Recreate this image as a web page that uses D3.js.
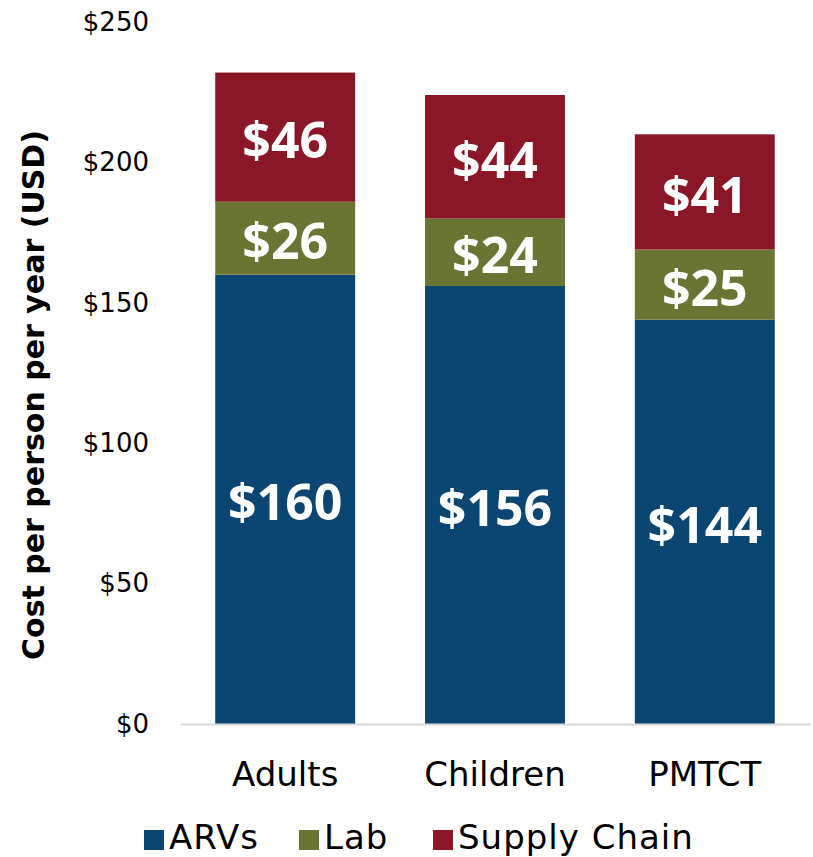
<!DOCTYPE html>
<html>
<head>
<meta charset="utf-8">
<script src="https://cdn.jsdelivr.net/npm/d3@7"></script>
<style>
  body { margin: 0; background: #fff; }
  text { font-family: "DejaVu Sans", sans-serif; }
</style>
</head>
<body>
<div id="chart-area"></div>
<script>
// chart data
let groups = ["Adults", "Children", "PMTCT"];
let series = ["ARVs", "Lab", "Supply Chain"];
let arvs = [160, 156, 144];
let lab = [26, 24, 25];
let supply = [46, 44, 41];
let yTicks = [0, 50, 100, 150, 200, 250];

let colors = ["#0b4571", "#6b7533", "#8b1626"];

let width = 813,
	height = 857;

let margin = {top: 22, right: 3, bottom: 133, left: 180};

let svg = d3.select("#chart-area").append("svg")
	.attr("width", width)
	.attr("height", height);

let g = svg.append("g")
	.attr("transform", "translate(" + margin.left + "," + margin.top + ")");

let innerW = width - margin.left - margin.right,
	innerH = height - margin.top - margin.bottom;

// build rows for stacking
let rows = groups.map((d, i) => ({group: d, "ARVs": arvs[i], "Lab": lab[i], "Supply Chain": supply[i]}));
let stacked = d3.stack().keys(series)(rows);

let x = d3.scaleBand()
	.domain(groups)
	.range([0, innerW])
	.paddingInner(0.333)
	.paddingOuter(0.168);

let y = d3.scaleLinear()
	.domain([0, 250])
	.range([innerH, 0]);

// y axis labels (no line)
let yAxis = d3.axisLeft(y)
	.tickValues(yTicks)
	.tickSize(0)
	.tickPadding(31)
	.tickFormat(d => "$" + d);

g.append("g")
	.attr("class", "axis y-axis")
	.call(yAxis)
	.call(a => a.select(".domain").remove())
	.selectAll("text")
	.style("font-family", "'DejaVu Sans', sans-serif")
	.style("font-size", "26px")
	.attr("fill", "#000");

// bars
let layers = g.selectAll(".layer")
	.data(stacked)
	.enter().append("g")
	.attr("class", "layer")
	.attr("fill", (d, i) => colors[i]);

layers.selectAll("rect")
	.data(d => d)
	.enter().append("rect")
	.attr("x", d => x(d.data.group))
	.attr("y", d => y(d[1]))
	.attr("width", x.bandwidth())
	.attr("height", d => y(d[0]) - y(d[1]));

// value labels
layers.selectAll(".val")
	.data(d => d.map(v => ({v: v, key: d.key})))
	.enter().append("text")
	.attr("class", "val")
	.attr("x", d => x(d.v.data.group) + x.bandwidth() / 2)
	.attr("y", d => y((d.v[0] + d.v[1]) / 2) + 2)
	.attr("text-anchor", "middle")
	.attr("dominant-baseline", "central")
	.attr("fill", "#fff")
	.style("font-family", "'Open Sans', sans-serif")
	.style("font-weight", "bold")
	.style("font-size", "50px")
	.text(d => "$" + d.v.data[d.key]);

// x axis line + labels
let xAxis = d3.axisBottom(x).tickSize(0);
g.append("g")
	.attr("class", "axis x-axis")
	.attr("transform", "translate(0," + innerH + ")")
	.call(xAxis)
	.call(a => a.select(".domain").attr("stroke", "#d9d9d9").attr("stroke-width", 2))
	.selectAll("text")
	.attr("y", 62)
	.attr("dy", 0)
	.style("font-family", "'DejaVu Sans', sans-serif")
	.style("font-size", "34px")
	.attr("fill", "#000");

// y title
svg.append("text")
	.attr("transform", "translate(44,395) rotate(-90)")
	.attr("text-anchor", "middle")
	.style("font-weight", "bold")
	.style("font-size", "30px")
	.attr("fill", "#000")
	.text("Cost per person per year (USD)");

// legend
let legendX = [144, 299, 433];
let legend = svg.selectAll(".legend")
	.data(series)
	.enter().append("g")
	.attr("class", "legend")
	.attr("transform", (d, i) => "translate(" + legendX[i] + ",830)");

legend.append("rect")
	.attr("width", 20)
	.attr("height", 20)
	.attr("fill", (d, i) => colors[i]);

legend.append("text")
	.attr("x", 25)
	.attr("y", 19)
	.style("font-size", "34px")
	.style("letter-spacing", "1px")
	.attr("fill", "#000")
	.text(d => d);
</script>
</body>
</html>
